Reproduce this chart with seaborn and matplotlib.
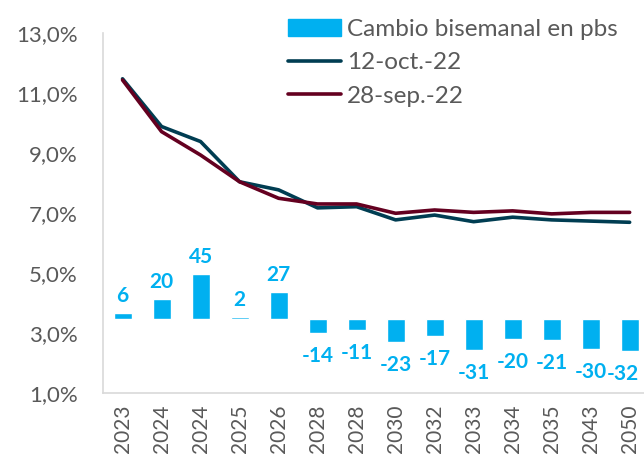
import numpy as np
import pandas as pd
import seaborn as sns
import matplotlib.pyplot as plt
from matplotlib.patches import Patch
from matplotlib.lines import Line2D
from matplotlib.ticker import FuncFormatter

# Data
years = ['2023', '2024', '2024', '2025', '2026', '2028', '2028', '2030',
         '2032', '2033', '2034', '2035', '2043', '2050']
curve_oct = [11.47, 9.88, 9.38, 8.04, 7.77, 7.17, 7.21, 6.77, 6.93, 6.71, 6.86, 6.77, 6.73, 6.69]
curve_sep = [11.43, 9.71, 8.93, 8.04, 7.49, 7.30, 7.30, 6.99, 7.10, 7.02, 7.07, 6.97, 7.02, 7.02]
change_bps = [6, 20, 45, 2, 27, -14, -11, -23, -17, -31, -20, -21, -30, -32]

bar_color = '#00B0F0'
oct_color = '#003D52'
sep_color = '#640020'
grey = '#595959'

sns.set_theme(style='white')
plt.rcParams['font.family'] = ['Lato', 'DejaVu Sans']

df = pd.DataFrame({'pos': np.arange(len(years)), 'oct': curve_oct,
                   'sep': curve_sep, 'bps': change_bps})

fig = plt.figure(figsize=(6.44, 4.63), dpi=100)
ax = fig.add_axes([0.16, 0.151, 0.848, 0.778])
ax2 = ax.twinx()

# bars on a hidden secondary axis (bps)
sns.barplot(data=df, x='pos', y='bps', color=bar_color, width=0.46,
            saturation=1, ax=ax2)
ax2.set_ylim(-74, 286)
ax2.set_yticks([])
ax2.set_ylabel('')
for s in ax2.spines.values():
    s.set_visible(False)

for i, v in enumerate(change_bps):
    dx = -5 if i == len(change_bps) - 1 else 0  # keep last label inside the figure
    if v >= 0:
        ax2.annotate(str(v), (i, v), xytext=(dx, 5), textcoords='offset points',
                     ha='center', va='bottom', color=bar_color,
                     fontsize=15, fontweight='bold')
    else:
        ax2.annotate(str(v), (i, v), xytext=(dx, -9), textcoords='offset points',
                     ha='center', va='top', color=bar_color,
                     fontsize=15, fontweight='bold')

# curves on the primary axis
sns.lineplot(data=df, x='pos', y='oct', color=oct_color, linewidth=2.6, ax=ax)
sns.lineplot(data=df, x='pos', y='sep', color=sep_color, linewidth=2.6, ax=ax)
ax.set_zorder(ax2.get_zorder() + 1)
ax.patch.set_visible(False)

ax.set_ylim(1, 13)
ax.set_yticks([1, 3, 5, 7, 9, 11, 13])
ax.yaxis.set_major_formatter(FuncFormatter(lambda v, p: f'{v:.1f}%'.replace('.', ',')))
ax.set_xlim(-0.5, len(years) - 0.5)
ax.set_xticks(np.arange(len(years)))
ax.set_xticklabels(years, rotation=90)
ax.set_xlabel('')
ax.set_ylabel('')
ax.tick_params(axis='y', labelsize=16, labelcolor=grey, length=0, pad=18)
ax.tick_params(axis='x', labelsize=15, labelcolor=grey, length=0, pad=8)
ax.spines['top'].set_visible(False)
ax.spines['right'].set_visible(False)
ax.spines['left'].set_color('#D9D9D9')
ax.spines['bottom'].set_color('#D9D9D9')
ax.spines['left'].set_linewidth(1.2)
ax.spines['bottom'].set_linewidth(1.2)

handles = [Patch(color=bar_color),
           Line2D([], [], color=oct_color, linewidth=2.6),
           Line2D([], [], color=sep_color, linewidth=2.6)]
labels = ['Cambio bisemanal en pbs', '12-oct.-22', '28-sep.-22']
leg = ax.legend(handles, labels, loc='upper left', bbox_to_anchor=(0.32, 1.065),
                frameon=False, fontsize=17.5, handlelength=2.2, handletextpad=0.25,
                labelspacing=0.5, borderaxespad=0)
for t in leg.get_texts():
    t.set_color(grey)

fig.savefig('out.png', dpi=100)
